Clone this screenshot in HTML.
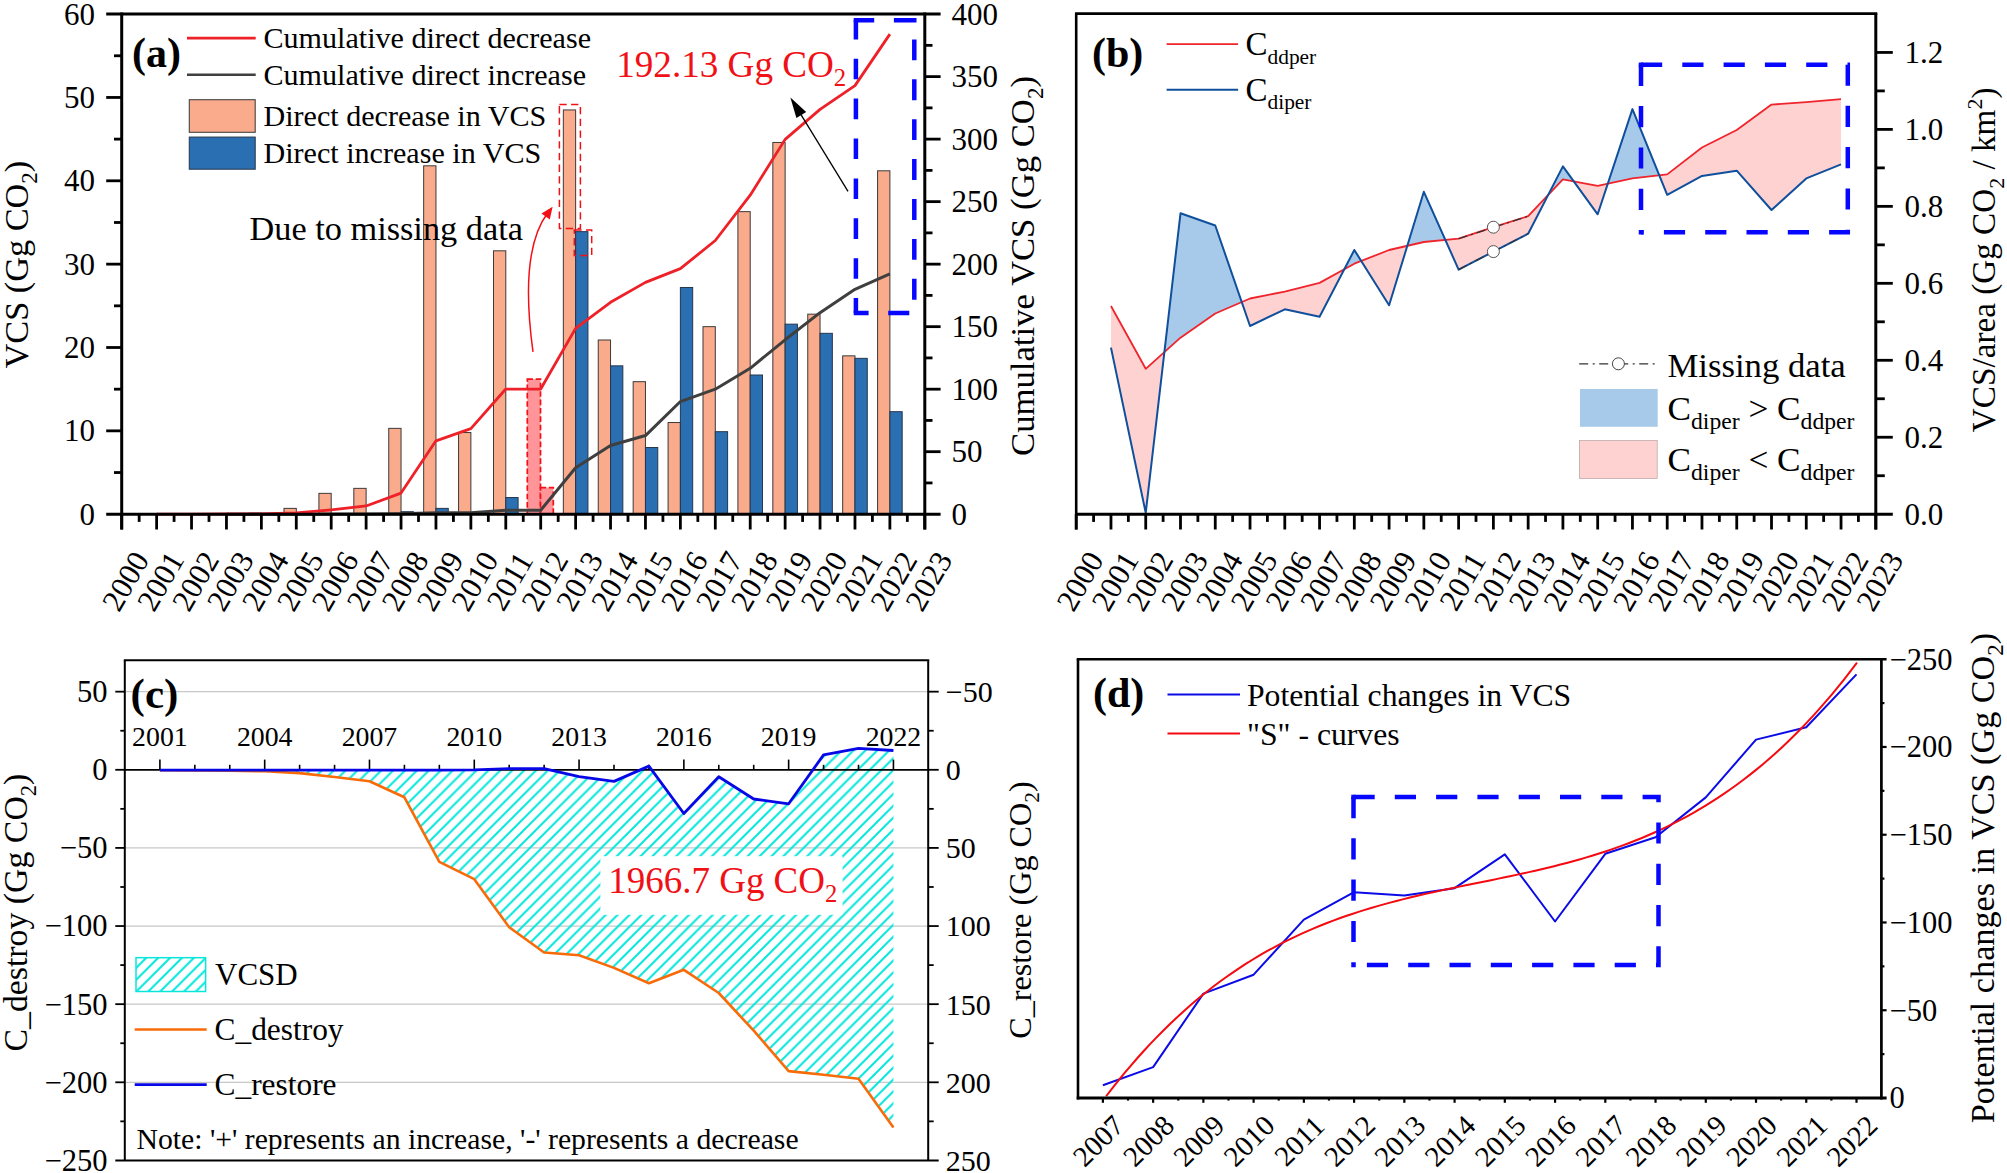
<!DOCTYPE html>
<html lang="en"><head><meta charset="utf-8"><title>VCS figure</title>
<style>html,body{margin:0;padding:0;background:#fff;}body{width:2007px;height:1173px;overflow:hidden;}svg{display:block;}text{white-space:pre;}</style></head>
<body>
<svg width="2007" height="1173" viewBox="0 0 2007 1173" font-family='"Liberation Serif", serif'>
<rect x="0" y="0" width="2007" height="1173" fill="#fff"/>
<g id="pa">
<rect x="249.07" y="513.2" width="12.3" height="1" fill="#f9ab8b" stroke="#3a3a3a" stroke-width="1" />
<rect x="283.99" y="508.37" width="12.3" height="5.83" fill="#f9ab8b" stroke="#3a3a3a" stroke-width="1" />
<rect x="318.9" y="493.36" width="12.3" height="20.84" fill="#f9ab8b" stroke="#3a3a3a" stroke-width="1" />
<rect x="353.82" y="488.36" width="12.3" height="25.84" fill="#f9ab8b" stroke="#3a3a3a" stroke-width="1" />
<rect x="388.74" y="428.35" width="12.3" height="85.85" fill="#f9ab8b" stroke="#3a3a3a" stroke-width="1" />
<rect x="423.66" y="165.8" width="12.3" height="348.4" fill="#f9ab8b" stroke="#3a3a3a" stroke-width="1" />
<rect x="458.57" y="432.52" width="12.3" height="81.68" fill="#f9ab8b" stroke="#3a3a3a" stroke-width="1" />
<rect x="493.49" y="250.81" width="12.3" height="263.39" fill="#f9ab8b" stroke="#3a3a3a" stroke-width="1" />
<rect x="563.33" y="109.95" width="12.3" height="404.25" fill="#f9ab8b" stroke="#3a3a3a" stroke-width="1" />
<rect x="598.24" y="340" width="12.3" height="174.2" fill="#f9ab8b" stroke="#3a3a3a" stroke-width="1" />
<rect x="633.16" y="381.67" width="12.3" height="132.53" fill="#f9ab8b" stroke="#3a3a3a" stroke-width="1" />
<rect x="668.08" y="422.52" width="12.3" height="91.69" fill="#f9ab8b" stroke="#3a3a3a" stroke-width="1" />
<rect x="703" y="326.66" width="12.3" height="187.54" fill="#f9ab8b" stroke="#3a3a3a" stroke-width="1" />
<rect x="737.91" y="211.64" width="12.3" height="302.56" fill="#f9ab8b" stroke="#3a3a3a" stroke-width="1" />
<rect x="772.83" y="142.46" width="12.3" height="371.74" fill="#f9ab8b" stroke="#3a3a3a" stroke-width="1" />
<rect x="807.75" y="314.16" width="12.3" height="200.04" fill="#f9ab8b" stroke="#3a3a3a" stroke-width="1" />
<rect x="842.67" y="355.84" width="12.3" height="158.37" fill="#f9ab8b" stroke="#3a3a3a" stroke-width="1" />
<rect x="877.58" y="170.8" width="12.3" height="343.4" fill="#f9ab8b" stroke="#3a3a3a" stroke-width="1" />
<rect x="401.04" y="511.7" width="12.3" height="2.5" fill="#2a6fb1" stroke="#26364d" stroke-width="1" />
<rect x="435.96" y="508.37" width="12.3" height="5.83" fill="#2a6fb1" stroke="#26364d" stroke-width="1" />
<rect x="470.87" y="513.2" width="12.3" height="1" fill="#2a6fb1" stroke="#26364d" stroke-width="1" />
<rect x="505.79" y="497.53" width="12.3" height="16.67" fill="#2a6fb1" stroke="#26364d" stroke-width="1" />
<rect x="575.63" y="231.64" width="12.3" height="282.56" fill="#2a6fb1" stroke="#26364d" stroke-width="1" />
<rect x="610.54" y="365.84" width="12.3" height="148.36" fill="#2a6fb1" stroke="#26364d" stroke-width="1" />
<rect x="645.46" y="447.52" width="12.3" height="66.68" fill="#2a6fb1" stroke="#26364d" stroke-width="1" />
<rect x="680.38" y="287.49" width="12.3" height="226.71" fill="#2a6fb1" stroke="#26364d" stroke-width="1" />
<rect x="715.3" y="431.68" width="12.3" height="82.52" fill="#2a6fb1" stroke="#26364d" stroke-width="1" />
<rect x="750.21" y="375.01" width="12.3" height="139.19" fill="#2a6fb1" stroke="#26364d" stroke-width="1" />
<rect x="785.13" y="324.16" width="12.3" height="190.04" fill="#2a6fb1" stroke="#26364d" stroke-width="1" />
<rect x="820.05" y="333.33" width="12.3" height="180.87" fill="#2a6fb1" stroke="#26364d" stroke-width="1" />
<rect x="854.97" y="358.34" width="12.3" height="155.86" fill="#2a6fb1" stroke="#26364d" stroke-width="1" />
<rect x="889.88" y="411.68" width="12.3" height="102.52" fill="#2a6fb1" stroke="#26364d" stroke-width="1" />
<rect x="527.31" y="379.17" width="13.2" height="135.03" fill="#ff9499" stroke="#f01016" stroke-width="1.7" stroke-dasharray="5.6 2.8"/>
<rect x="540.51" y="487.53" width="12.8" height="26.67" fill="#ff9499" stroke="#f01016" stroke-width="1.7" stroke-dasharray="5.6 2.8"/>
<polyline points="226.45,514.2 366.12,514.07 401.04,513.7 435.96,512.82 470.87,512.7 505.79,510.2 540.71,510.2 575.63,467.82 610.54,445.56 645.46,435.56 680.38,401.55 715.3,389.18 750.21,368.3 785.13,339.79 820.05,312.66 854.97,289.28 889.88,273.9" fill="none" stroke="#3f3f3f" stroke-width="3" stroke-linejoin="round" />
<polyline points="156.62,514.2 191.53,514.14 226.45,514.01 261.37,513.82 296.29,512.95 331.2,509.82 366.12,505.95 401.04,493.07 435.96,440.81 470.87,428.56 505.79,389.05 540.71,389.05 575.63,328.41 610.54,302.28 645.46,282.4 680.38,268.65 715.3,240.52 750.21,195.14 785.13,139.38 820.05,109.37 854.97,85.61 889.88,34.1" fill="none" stroke="#ee2128" stroke-width="2.8" stroke-linejoin="round" />
<rect x="559.4" y="104.6" width="21" height="123.8" fill="none" stroke="#f01016" stroke-width="1.5" stroke-dasharray="7.3 4.4"/>
<rect x="574.3" y="230" width="17.4" height="25.4" fill="none" stroke="#f01016" stroke-width="1.5" stroke-dasharray="7.3 4.4"/>
<path d="M533,351.8 C524.5,290 527,240 548,212.5" fill="none" stroke="#f01016" stroke-width="1.5"/>
<polygon points="552.6,206.8 549.8,219.6 541.5,213.6" fill="#f01016" />
<line x1="848" y1="191.3" x2="795" y2="104.8" stroke="#000" stroke-width="1.3" />
<polygon points="790.4,97.4 806.2,112 796.4,118" fill="#000" />
<path d="M853.7,20.3 H874.2 M893.9,20.3 H916.5" stroke="#0707ff" stroke-width="4.5" fill="none"/>
<path d="M853.7,313.0 H868.6 M888.2,313.0 H909.3" stroke="#0707ff" stroke-width="4.5" fill="none"/>
<path d="M855.9,20.3 V313.0" stroke="#0707ff" stroke-width="4.5" fill="none" stroke-dasharray="20.6 19.3" stroke-dashoffset="1.5"/>
<path d="M914.3,39.4 V313.0" stroke="#0707ff" stroke-width="4.5" fill="none" stroke-dasharray="20.9 19"/>
<line x1="106.2" y1="14.1" x2="940.6" y2="14.1" stroke="#000" stroke-width="3" />
<line x1="106.2" y1="514.2" x2="940.6" y2="514.2" stroke="#000" stroke-width="3" />
<line x1="121.7" y1="12.6" x2="121.7" y2="529.5" stroke="#000" stroke-width="3" />
<line x1="924.8" y1="12.6" x2="924.8" y2="529.5" stroke="#000" stroke-width="3" />
<line x1="114" y1="472.53" x2="121.7" y2="472.53" stroke="#000" stroke-width="2.8" />
<line x1="106.2" y1="430.85" x2="121.7" y2="430.85" stroke="#000" stroke-width="2.8" />
<line x1="114" y1="389.18" x2="121.7" y2="389.18" stroke="#000" stroke-width="2.8" />
<line x1="106.2" y1="347.5" x2="121.7" y2="347.5" stroke="#000" stroke-width="2.8" />
<line x1="114" y1="305.83" x2="121.7" y2="305.83" stroke="#000" stroke-width="2.8" />
<line x1="106.2" y1="264.15" x2="121.7" y2="264.15" stroke="#000" stroke-width="2.8" />
<line x1="114" y1="222.48" x2="121.7" y2="222.48" stroke="#000" stroke-width="2.8" />
<line x1="106.2" y1="180.8" x2="121.7" y2="180.8" stroke="#000" stroke-width="2.8" />
<line x1="114" y1="139.12" x2="121.7" y2="139.12" stroke="#000" stroke-width="2.8" />
<line x1="106.2" y1="97.45" x2="121.7" y2="97.45" stroke="#000" stroke-width="2.8" />
<line x1="114" y1="55.77" x2="121.7" y2="55.77" stroke="#000" stroke-width="2.8" />
<line x1="924.8" y1="482.94" x2="932.5" y2="482.94" stroke="#000" stroke-width="2.8" />
<line x1="924.8" y1="451.69" x2="940.6" y2="451.69" stroke="#000" stroke-width="2.8" />
<line x1="924.8" y1="420.43" x2="932.5" y2="420.43" stroke="#000" stroke-width="2.8" />
<line x1="924.8" y1="389.18" x2="940.6" y2="389.18" stroke="#000" stroke-width="2.8" />
<line x1="924.8" y1="357.92" x2="932.5" y2="357.92" stroke="#000" stroke-width="2.8" />
<line x1="924.8" y1="326.66" x2="940.6" y2="326.66" stroke="#000" stroke-width="2.8" />
<line x1="924.8" y1="295.41" x2="932.5" y2="295.41" stroke="#000" stroke-width="2.8" />
<line x1="924.8" y1="264.15" x2="940.6" y2="264.15" stroke="#000" stroke-width="2.8" />
<line x1="924.8" y1="232.89" x2="932.5" y2="232.89" stroke="#000" stroke-width="2.8" />
<line x1="924.8" y1="201.64" x2="940.6" y2="201.64" stroke="#000" stroke-width="2.8" />
<line x1="924.8" y1="170.38" x2="932.5" y2="170.38" stroke="#000" stroke-width="2.8" />
<line x1="924.8" y1="139.12" x2="940.6" y2="139.12" stroke="#000" stroke-width="2.8" />
<line x1="924.8" y1="107.87" x2="932.5" y2="107.87" stroke="#000" stroke-width="2.8" />
<line x1="924.8" y1="76.61" x2="940.6" y2="76.61" stroke="#000" stroke-width="2.8" />
<line x1="924.8" y1="45.36" x2="932.5" y2="45.36" stroke="#000" stroke-width="2.8" />
<line x1="121.7" y1="514.2" x2="121.7" y2="529.5" stroke="#000" stroke-width="2.8" />
<line x1="139.16" y1="514.2" x2="139.16" y2="521.9" stroke="#000" stroke-width="2.8" />
<line x1="156.62" y1="514.2" x2="156.62" y2="529.5" stroke="#000" stroke-width="2.8" />
<line x1="174.08" y1="514.2" x2="174.08" y2="521.9" stroke="#000" stroke-width="2.8" />
<line x1="191.53" y1="514.2" x2="191.53" y2="529.5" stroke="#000" stroke-width="2.8" />
<line x1="208.99" y1="514.2" x2="208.99" y2="521.9" stroke="#000" stroke-width="2.8" />
<line x1="226.45" y1="514.2" x2="226.45" y2="529.5" stroke="#000" stroke-width="2.8" />
<line x1="243.91" y1="514.2" x2="243.91" y2="521.9" stroke="#000" stroke-width="2.8" />
<line x1="261.37" y1="514.2" x2="261.37" y2="529.5" stroke="#000" stroke-width="2.8" />
<line x1="278.83" y1="514.2" x2="278.83" y2="521.9" stroke="#000" stroke-width="2.8" />
<line x1="296.29" y1="514.2" x2="296.29" y2="529.5" stroke="#000" stroke-width="2.8" />
<line x1="313.75" y1="514.2" x2="313.75" y2="521.9" stroke="#000" stroke-width="2.8" />
<line x1="331.2" y1="514.2" x2="331.2" y2="529.5" stroke="#000" stroke-width="2.8" />
<line x1="348.66" y1="514.2" x2="348.66" y2="521.9" stroke="#000" stroke-width="2.8" />
<line x1="366.12" y1="514.2" x2="366.12" y2="529.5" stroke="#000" stroke-width="2.8" />
<line x1="383.58" y1="514.2" x2="383.58" y2="521.9" stroke="#000" stroke-width="2.8" />
<line x1="401.04" y1="514.2" x2="401.04" y2="529.5" stroke="#000" stroke-width="2.8" />
<line x1="418.5" y1="514.2" x2="418.5" y2="521.9" stroke="#000" stroke-width="2.8" />
<line x1="435.96" y1="514.2" x2="435.96" y2="529.5" stroke="#000" stroke-width="2.8" />
<line x1="453.42" y1="514.2" x2="453.42" y2="521.9" stroke="#000" stroke-width="2.8" />
<line x1="470.87" y1="514.2" x2="470.87" y2="529.5" stroke="#000" stroke-width="2.8" />
<line x1="488.33" y1="514.2" x2="488.33" y2="521.9" stroke="#000" stroke-width="2.8" />
<line x1="505.79" y1="514.2" x2="505.79" y2="529.5" stroke="#000" stroke-width="2.8" />
<line x1="523.25" y1="514.2" x2="523.25" y2="521.9" stroke="#000" stroke-width="2.8" />
<line x1="540.71" y1="514.2" x2="540.71" y2="529.5" stroke="#000" stroke-width="2.8" />
<line x1="558.17" y1="514.2" x2="558.17" y2="521.9" stroke="#000" stroke-width="2.8" />
<line x1="575.63" y1="514.2" x2="575.63" y2="529.5" stroke="#000" stroke-width="2.8" />
<line x1="593.08" y1="514.2" x2="593.08" y2="521.9" stroke="#000" stroke-width="2.8" />
<line x1="610.54" y1="514.2" x2="610.54" y2="529.5" stroke="#000" stroke-width="2.8" />
<line x1="628" y1="514.2" x2="628" y2="521.9" stroke="#000" stroke-width="2.8" />
<line x1="645.46" y1="514.2" x2="645.46" y2="529.5" stroke="#000" stroke-width="2.8" />
<line x1="662.92" y1="514.2" x2="662.92" y2="521.9" stroke="#000" stroke-width="2.8" />
<line x1="680.38" y1="514.2" x2="680.38" y2="529.5" stroke="#000" stroke-width="2.8" />
<line x1="697.84" y1="514.2" x2="697.84" y2="521.9" stroke="#000" stroke-width="2.8" />
<line x1="715.3" y1="514.2" x2="715.3" y2="529.5" stroke="#000" stroke-width="2.8" />
<line x1="732.75" y1="514.2" x2="732.75" y2="521.9" stroke="#000" stroke-width="2.8" />
<line x1="750.21" y1="514.2" x2="750.21" y2="529.5" stroke="#000" stroke-width="2.8" />
<line x1="767.67" y1="514.2" x2="767.67" y2="521.9" stroke="#000" stroke-width="2.8" />
<line x1="785.13" y1="514.2" x2="785.13" y2="529.5" stroke="#000" stroke-width="2.8" />
<line x1="802.59" y1="514.2" x2="802.59" y2="521.9" stroke="#000" stroke-width="2.8" />
<line x1="820.05" y1="514.2" x2="820.05" y2="529.5" stroke="#000" stroke-width="2.8" />
<line x1="837.51" y1="514.2" x2="837.51" y2="521.9" stroke="#000" stroke-width="2.8" />
<line x1="854.97" y1="514.2" x2="854.97" y2="529.5" stroke="#000" stroke-width="2.8" />
<line x1="872.42" y1="514.2" x2="872.42" y2="521.9" stroke="#000" stroke-width="2.8" />
<line x1="889.88" y1="514.2" x2="889.88" y2="529.5" stroke="#000" stroke-width="2.8" />
<line x1="907.34" y1="514.2" x2="907.34" y2="521.9" stroke="#000" stroke-width="2.8" />
<line x1="924.8" y1="514.2" x2="924.8" y2="529.5" stroke="#000" stroke-width="2.8" />
<text x="94.9" y="524.7" font-size="31" text-anchor="end" fill="#000" font-weight="normal" >0</text>
<text x="94.9" y="441.35" font-size="31" text-anchor="end" fill="#000" font-weight="normal" >10</text>
<text x="94.9" y="358" font-size="31" text-anchor="end" fill="#000" font-weight="normal" >20</text>
<text x="94.9" y="274.65" font-size="31" text-anchor="end" fill="#000" font-weight="normal" >30</text>
<text x="94.9" y="191.3" font-size="31" text-anchor="end" fill="#000" font-weight="normal" >40</text>
<text x="94.9" y="107.95" font-size="31" text-anchor="end" fill="#000" font-weight="normal" >50</text>
<text x="94.9" y="24.6" font-size="31" text-anchor="end" fill="#000" font-weight="normal" >60</text>
<text x="951.4" y="524.7" font-size="31" text-anchor="start" fill="#000" font-weight="normal" >0</text>
<text x="951.4" y="462.19" font-size="31" text-anchor="start" fill="#000" font-weight="normal" >50</text>
<text x="951.4" y="399.68" font-size="31" text-anchor="start" fill="#000" font-weight="normal" >100</text>
<text x="951.4" y="337.16" font-size="31" text-anchor="start" fill="#000" font-weight="normal" >150</text>
<text x="951.4" y="274.65" font-size="31" text-anchor="start" fill="#000" font-weight="normal" >200</text>
<text x="951.4" y="212.14" font-size="31" text-anchor="start" fill="#000" font-weight="normal" >250</text>
<text x="951.4" y="149.62" font-size="31" text-anchor="start" fill="#000" font-weight="normal" >300</text>
<text x="951.4" y="87.11" font-size="31" text-anchor="start" fill="#000" font-weight="normal" >350</text>
<text x="951.4" y="24.6" font-size="31" text-anchor="start" fill="#000" font-weight="normal" >400</text>
<text x="125.7" y="591.5" font-size="31" text-anchor="middle" transform="rotate(-60 125.7 581.2)">2000</text>
<text x="160.62" y="591.5" font-size="31" text-anchor="middle" transform="rotate(-60 160.62 581.2)">2001</text>
<text x="195.53" y="591.5" font-size="31" text-anchor="middle" transform="rotate(-60 195.53 581.2)">2002</text>
<text x="230.45" y="591.5" font-size="31" text-anchor="middle" transform="rotate(-60 230.45 581.2)">2003</text>
<text x="265.37" y="591.5" font-size="31" text-anchor="middle" transform="rotate(-60 265.37 581.2)">2004</text>
<text x="300.29" y="591.5" font-size="31" text-anchor="middle" transform="rotate(-60 300.29 581.2)">2005</text>
<text x="335.2" y="591.5" font-size="31" text-anchor="middle" transform="rotate(-60 335.2 581.2)">2006</text>
<text x="370.12" y="591.5" font-size="31" text-anchor="middle" transform="rotate(-60 370.12 581.2)">2007</text>
<text x="405.04" y="591.5" font-size="31" text-anchor="middle" transform="rotate(-60 405.04 581.2)">2008</text>
<text x="439.96" y="591.5" font-size="31" text-anchor="middle" transform="rotate(-60 439.96 581.2)">2009</text>
<text x="474.87" y="591.5" font-size="31" text-anchor="middle" transform="rotate(-60 474.87 581.2)">2010</text>
<text x="509.79" y="591.5" font-size="31" text-anchor="middle" transform="rotate(-60 509.79 581.2)">2011</text>
<text x="544.71" y="591.5" font-size="31" text-anchor="middle" transform="rotate(-60 544.71 581.2)">2012</text>
<text x="579.63" y="591.5" font-size="31" text-anchor="middle" transform="rotate(-60 579.63 581.2)">2013</text>
<text x="614.54" y="591.5" font-size="31" text-anchor="middle" transform="rotate(-60 614.54 581.2)">2014</text>
<text x="649.46" y="591.5" font-size="31" text-anchor="middle" transform="rotate(-60 649.46 581.2)">2015</text>
<text x="684.38" y="591.5" font-size="31" text-anchor="middle" transform="rotate(-60 684.38 581.2)">2016</text>
<text x="719.3" y="591.5" font-size="31" text-anchor="middle" transform="rotate(-60 719.3 581.2)">2017</text>
<text x="754.21" y="591.5" font-size="31" text-anchor="middle" transform="rotate(-60 754.21 581.2)">2018</text>
<text x="789.13" y="591.5" font-size="31" text-anchor="middle" transform="rotate(-60 789.13 581.2)">2019</text>
<text x="824.05" y="591.5" font-size="31" text-anchor="middle" transform="rotate(-60 824.05 581.2)">2020</text>
<text x="858.97" y="591.5" font-size="31" text-anchor="middle" transform="rotate(-60 858.97 581.2)">2021</text>
<text x="893.88" y="591.5" font-size="31" text-anchor="middle" transform="rotate(-60 893.88 581.2)">2022</text>
<text x="928.8" y="591.5" font-size="31" text-anchor="middle" transform="rotate(-60 928.8 581.2)">2023</text>
<text x="28.3" y="264.6" font-size="34.3" text-anchor="middle" fill="#000" font-weight="normal" transform="rotate(-90 28.3 264.6)" >VCS (Gg CO<tspan font-size="23" dy="9">2</tspan><tspan dy="-9">)</tspan></text>
<text x="1034" y="266" font-size="34.7" text-anchor="middle" fill="#000" font-weight="normal" transform="rotate(-90 1034 266)" >Cumulative VCS (Gg CO<tspan font-size="23" dy="9">2</tspan><tspan dy="-9">)</tspan></text>
<line x1="187" y1="38.1" x2="255.7" y2="38.1" stroke="#ee2128" stroke-width="2.6" />
<line x1="187" y1="74.7" x2="255.7" y2="74.7" stroke="#3f3f3f" stroke-width="2.5" />
<rect x="189.3" y="99.7" width="65.9" height="32.6" fill="#f9ab8b" stroke="#444" stroke-width="1.1" />
<rect x="189.3" y="137.1" width="65.9" height="32.1" fill="#2a6fb1" stroke="#2b3c55" stroke-width="1.1" />
<text x="263.5" y="48.4" font-size="30.1" text-anchor="start" fill="#000" font-weight="normal" >Cumulative direct decrease</text>
<text x="263.5" y="85.1" font-size="30.1" text-anchor="start" fill="#000" font-weight="normal" >Cumulative direct increase</text>
<text x="263.5" y="126.3" font-size="30.1" text-anchor="start" fill="#000" font-weight="normal" >Direct decrease in VCS</text>
<text x="263.5" y="162.9" font-size="30.1" text-anchor="start" fill="#000" font-weight="normal" >Direct increase in VCS</text>
<text x="132" y="66.5" font-size="42" text-anchor="start" fill="#000" font-weight="bold" >(a)</text>
<text x="249.5" y="239.8" font-size="34.3" text-anchor="start" fill="#000" font-weight="normal" >Due to missing data</text>
<text x="616.2" y="76.6" font-size="37.5" text-anchor="start" fill="#f01016" font-weight="normal" textLength="230" lengthAdjust="spacingAndGlyphs">192.13 Gg CO<tspan font-size="25" dy="9">2</tspan></text>
</g>
<g id="pb">
<polygon points="1110.97,306 1145.73,368.8 1164.38,352.11 1145.73,512.8 1110.97,347.6" fill="#ffd2d2" />
<polygon points="1164.38,352.11 1180.5,337.7 1215.26,313.5 1241.75,302.07 1215.26,225.5 1180.5,213.3" fill="#a8caea" />
<polygon points="1241.75,302.07 1250.03,298.5 1284.79,291.6 1319.56,282.9 1344.29,269.24 1319.56,316.7 1284.79,309.3 1250.03,326" fill="#ffd2d2" />
<polygon points="1344.29,269.24 1354.32,263.7 1361.22,260.98 1354.32,250" fill="#a8caea" />
<polygon points="1361.22,260.98 1389.09,250 1407.31,245.81 1389.09,305.3" fill="#ffd2d2" />
<polygon points="1407.31,245.81 1423.85,242 1445.37,239.96 1423.85,191.8" fill="#a8caea" />
<polygon points="1445.37,239.96 1458.62,238.7 1493.38,227.2 1528.15,216.2 1548.1,195.09 1528.15,233.7 1493.38,251.6 1458.62,269.6" fill="#ffd2d2" />
<polygon points="1548.1,195.09 1562.91,179.4 1573.83,181.44 1562.91,166.4" fill="#a8caea" />
<polygon points="1573.83,181.44 1597.68,185.9 1607.78,183.72 1597.68,214.3" fill="#ffd2d2" />
<polygon points="1607.78,183.72 1632.44,178.4 1659.3,175.31 1632.44,109.1" fill="#a8caea" />
<polygon points="1659.3,175.31 1667.21,174.4 1701.97,147.5 1736.74,130 1771.5,104.6 1806.27,102.1 1841.03,99.2 1841.03,164.4 1806.27,178.4 1771.5,210 1736.74,170.7 1701.97,175.9 1667.21,194.8" fill="#ffd2d2" />
<polyline points="1110.97,306 1145.73,368.8 1180.5,337.7 1215.26,313.5 1250.03,298.5 1284.79,291.6 1319.56,282.9 1354.32,263.7 1389.09,250 1423.85,242 1458.62,238.7 1493.38,227.2 1528.15,216.2 1562.91,179.4 1597.68,185.9 1632.44,178.4 1667.21,174.4 1701.97,147.5 1736.74,130 1771.5,104.6 1806.27,102.1 1841.03,99.2" fill="none" stroke="#f0242c" stroke-width="1.8" stroke-linejoin="round" />
<polyline points="1110.97,347.6 1145.73,512.8 1180.5,213.3 1215.26,225.5 1250.03,326 1284.79,309.3 1319.56,316.7 1354.32,250 1389.09,305.3 1423.85,191.8 1458.62,269.6 1493.38,251.6 1528.15,233.7 1562.91,166.4 1597.68,214.3 1632.44,109.1 1667.21,194.8 1701.97,175.9 1736.74,170.7 1771.5,210 1806.27,178.4 1841.03,164.4" fill="none" stroke="#0f4f9c" stroke-width="2" stroke-linejoin="round" />
<polyline points="1458.62,238.7 1528.15,216.2" fill="none" stroke="#333" stroke-width="1.2" stroke-dasharray="9 4 2 4"/>
<circle cx="1493.38" cy="227.2" r="6" fill="#fff" stroke="#555" stroke-width="1"/>
<polyline points="1458.62,269.6 1528.15,233.7" fill="none" stroke="#333" stroke-width="1.2" stroke-dasharray="9 4 2 4"/>
<circle cx="1493.38" cy="251.6" r="6" fill="#fff" stroke="#555" stroke-width="1"/>
<path d="M1641,64.8 H1847.8 V232.2 H1641" stroke="#0707ff" stroke-width="4.5" fill="none" stroke-dasharray="21.2 20.1" stroke-linejoin="miter"/>
<path d="M1641,64.8 V234.45" stroke="#0707ff" stroke-width="4.5" fill="none" stroke-dasharray="21.2 20.1"/>
<rect x="1638.75" y="62.55" width="4.5" height="4.5" fill="#0707ff" stroke="none" stroke-width="1" />
<line x1="1075" y1="13.6" x2="1877.3" y2="13.6" stroke="#000" stroke-width="2.8" />
<line x1="1075" y1="514.2" x2="1892.8" y2="514.2" stroke="#000" stroke-width="3" />
<line x1="1076.2" y1="13.6" x2="1076.2" y2="529.5" stroke="#000" stroke-width="2.6" />
<line x1="1875.8" y1="13.6" x2="1875.8" y2="529.5" stroke="#000" stroke-width="3" />
<line x1="1076.2" y1="514.2" x2="1076.2" y2="529.5" stroke="#000" stroke-width="2.8" />
<line x1="1093.58" y1="514.2" x2="1093.58" y2="521.9" stroke="#000" stroke-width="2.8" />
<line x1="1110.97" y1="514.2" x2="1110.97" y2="529.5" stroke="#000" stroke-width="2.8" />
<line x1="1128.35" y1="514.2" x2="1128.35" y2="521.9" stroke="#000" stroke-width="2.8" />
<line x1="1145.73" y1="514.2" x2="1145.73" y2="529.5" stroke="#000" stroke-width="2.8" />
<line x1="1163.11" y1="514.2" x2="1163.11" y2="521.9" stroke="#000" stroke-width="2.8" />
<line x1="1180.5" y1="514.2" x2="1180.5" y2="529.5" stroke="#000" stroke-width="2.8" />
<line x1="1197.88" y1="514.2" x2="1197.88" y2="521.9" stroke="#000" stroke-width="2.8" />
<line x1="1215.26" y1="514.2" x2="1215.26" y2="529.5" stroke="#000" stroke-width="2.8" />
<line x1="1232.64" y1="514.2" x2="1232.64" y2="521.9" stroke="#000" stroke-width="2.8" />
<line x1="1250.03" y1="514.2" x2="1250.03" y2="529.5" stroke="#000" stroke-width="2.8" />
<line x1="1267.41" y1="514.2" x2="1267.41" y2="521.9" stroke="#000" stroke-width="2.8" />
<line x1="1284.79" y1="514.2" x2="1284.79" y2="529.5" stroke="#000" stroke-width="2.8" />
<line x1="1302.17" y1="514.2" x2="1302.17" y2="521.9" stroke="#000" stroke-width="2.8" />
<line x1="1319.56" y1="514.2" x2="1319.56" y2="529.5" stroke="#000" stroke-width="2.8" />
<line x1="1336.94" y1="514.2" x2="1336.94" y2="521.9" stroke="#000" stroke-width="2.8" />
<line x1="1354.32" y1="514.2" x2="1354.32" y2="529.5" stroke="#000" stroke-width="2.8" />
<line x1="1371.7" y1="514.2" x2="1371.7" y2="521.9" stroke="#000" stroke-width="2.8" />
<line x1="1389.09" y1="514.2" x2="1389.09" y2="529.5" stroke="#000" stroke-width="2.8" />
<line x1="1406.47" y1="514.2" x2="1406.47" y2="521.9" stroke="#000" stroke-width="2.8" />
<line x1="1423.85" y1="514.2" x2="1423.85" y2="529.5" stroke="#000" stroke-width="2.8" />
<line x1="1441.23" y1="514.2" x2="1441.23" y2="521.9" stroke="#000" stroke-width="2.8" />
<line x1="1458.62" y1="514.2" x2="1458.62" y2="529.5" stroke="#000" stroke-width="2.8" />
<line x1="1476" y1="514.2" x2="1476" y2="521.9" stroke="#000" stroke-width="2.8" />
<line x1="1493.38" y1="514.2" x2="1493.38" y2="529.5" stroke="#000" stroke-width="2.8" />
<line x1="1510.77" y1="514.2" x2="1510.77" y2="521.9" stroke="#000" stroke-width="2.8" />
<line x1="1528.15" y1="514.2" x2="1528.15" y2="529.5" stroke="#000" stroke-width="2.8" />
<line x1="1545.53" y1="514.2" x2="1545.53" y2="521.9" stroke="#000" stroke-width="2.8" />
<line x1="1562.91" y1="514.2" x2="1562.91" y2="529.5" stroke="#000" stroke-width="2.8" />
<line x1="1580.3" y1="514.2" x2="1580.3" y2="521.9" stroke="#000" stroke-width="2.8" />
<line x1="1597.68" y1="514.2" x2="1597.68" y2="529.5" stroke="#000" stroke-width="2.8" />
<line x1="1615.06" y1="514.2" x2="1615.06" y2="521.9" stroke="#000" stroke-width="2.8" />
<line x1="1632.44" y1="514.2" x2="1632.44" y2="529.5" stroke="#000" stroke-width="2.8" />
<line x1="1649.83" y1="514.2" x2="1649.83" y2="521.9" stroke="#000" stroke-width="2.8" />
<line x1="1667.21" y1="514.2" x2="1667.21" y2="529.5" stroke="#000" stroke-width="2.8" />
<line x1="1684.59" y1="514.2" x2="1684.59" y2="521.9" stroke="#000" stroke-width="2.8" />
<line x1="1701.97" y1="514.2" x2="1701.97" y2="529.5" stroke="#000" stroke-width="2.8" />
<line x1="1719.36" y1="514.2" x2="1719.36" y2="521.9" stroke="#000" stroke-width="2.8" />
<line x1="1736.74" y1="514.2" x2="1736.74" y2="529.5" stroke="#000" stroke-width="2.8" />
<line x1="1754.12" y1="514.2" x2="1754.12" y2="521.9" stroke="#000" stroke-width="2.8" />
<line x1="1771.5" y1="514.2" x2="1771.5" y2="529.5" stroke="#000" stroke-width="2.8" />
<line x1="1788.89" y1="514.2" x2="1788.89" y2="521.9" stroke="#000" stroke-width="2.8" />
<line x1="1806.27" y1="514.2" x2="1806.27" y2="529.5" stroke="#000" stroke-width="2.8" />
<line x1="1823.65" y1="514.2" x2="1823.65" y2="521.9" stroke="#000" stroke-width="2.8" />
<line x1="1841.03" y1="514.2" x2="1841.03" y2="529.5" stroke="#000" stroke-width="2.8" />
<line x1="1858.42" y1="514.2" x2="1858.42" y2="521.9" stroke="#000" stroke-width="2.8" />
<line x1="1875.8" y1="514.2" x2="1875.8" y2="529.5" stroke="#000" stroke-width="2.8" />
<line x1="1875.8" y1="475.72" x2="1884.8" y2="475.72" stroke="#000" stroke-width="2.8" />
<line x1="1875.8" y1="437.24" x2="1892.8" y2="437.24" stroke="#000" stroke-width="2.8" />
<line x1="1875.8" y1="398.76" x2="1884.8" y2="398.76" stroke="#000" stroke-width="2.8" />
<line x1="1875.8" y1="360.28" x2="1892.8" y2="360.28" stroke="#000" stroke-width="2.8" />
<line x1="1875.8" y1="321.8" x2="1884.8" y2="321.8" stroke="#000" stroke-width="2.8" />
<line x1="1875.8" y1="283.32" x2="1892.8" y2="283.32" stroke="#000" stroke-width="2.8" />
<line x1="1875.8" y1="244.84" x2="1884.8" y2="244.84" stroke="#000" stroke-width="2.8" />
<line x1="1875.8" y1="206.36" x2="1892.8" y2="206.36" stroke="#000" stroke-width="2.8" />
<line x1="1875.8" y1="167.88" x2="1884.8" y2="167.88" stroke="#000" stroke-width="2.8" />
<line x1="1875.8" y1="129.4" x2="1892.8" y2="129.4" stroke="#000" stroke-width="2.8" />
<line x1="1875.8" y1="90.92" x2="1884.8" y2="90.92" stroke="#000" stroke-width="2.8" />
<line x1="1875.8" y1="52.44" x2="1892.8" y2="52.44" stroke="#000" stroke-width="2.8" />
<text x="1904.5" y="524.5" font-size="31" text-anchor="start" fill="#000" font-weight="normal" >0.0</text>
<text x="1904.5" y="447.54" font-size="31" text-anchor="start" fill="#000" font-weight="normal" >0.2</text>
<text x="1904.5" y="370.58" font-size="31" text-anchor="start" fill="#000" font-weight="normal" >0.4</text>
<text x="1904.5" y="293.62" font-size="31" text-anchor="start" fill="#000" font-weight="normal" >0.6</text>
<text x="1904.5" y="216.66" font-size="31" text-anchor="start" fill="#000" font-weight="normal" >0.8</text>
<text x="1904.5" y="139.7" font-size="31" text-anchor="start" fill="#000" font-weight="normal" >1.0</text>
<text x="1904.5" y="62.74" font-size="31" text-anchor="start" fill="#000" font-weight="normal" >1.2</text>
<text x="1080.2" y="591.5" font-size="31" text-anchor="middle" transform="rotate(-60 1080.2 581.2)">2000</text>
<text x="1114.97" y="591.5" font-size="31" text-anchor="middle" transform="rotate(-60 1114.97 581.2)">2001</text>
<text x="1149.73" y="591.5" font-size="31" text-anchor="middle" transform="rotate(-60 1149.73 581.2)">2002</text>
<text x="1184.5" y="591.5" font-size="31" text-anchor="middle" transform="rotate(-60 1184.5 581.2)">2003</text>
<text x="1219.26" y="591.5" font-size="31" text-anchor="middle" transform="rotate(-60 1219.26 581.2)">2004</text>
<text x="1254.03" y="591.5" font-size="31" text-anchor="middle" transform="rotate(-60 1254.03 581.2)">2005</text>
<text x="1288.79" y="591.5" font-size="31" text-anchor="middle" transform="rotate(-60 1288.79 581.2)">2006</text>
<text x="1323.56" y="591.5" font-size="31" text-anchor="middle" transform="rotate(-60 1323.56 581.2)">2007</text>
<text x="1358.32" y="591.5" font-size="31" text-anchor="middle" transform="rotate(-60 1358.32 581.2)">2008</text>
<text x="1393.09" y="591.5" font-size="31" text-anchor="middle" transform="rotate(-60 1393.09 581.2)">2009</text>
<text x="1427.85" y="591.5" font-size="31" text-anchor="middle" transform="rotate(-60 1427.85 581.2)">2010</text>
<text x="1462.62" y="591.5" font-size="31" text-anchor="middle" transform="rotate(-60 1462.62 581.2)">2011</text>
<text x="1497.38" y="591.5" font-size="31" text-anchor="middle" transform="rotate(-60 1497.38 581.2)">2012</text>
<text x="1532.15" y="591.5" font-size="31" text-anchor="middle" transform="rotate(-60 1532.15 581.2)">2013</text>
<text x="1566.91" y="591.5" font-size="31" text-anchor="middle" transform="rotate(-60 1566.91 581.2)">2014</text>
<text x="1601.68" y="591.5" font-size="31" text-anchor="middle" transform="rotate(-60 1601.68 581.2)">2015</text>
<text x="1636.44" y="591.5" font-size="31" text-anchor="middle" transform="rotate(-60 1636.44 581.2)">2016</text>
<text x="1671.21" y="591.5" font-size="31" text-anchor="middle" transform="rotate(-60 1671.21 581.2)">2017</text>
<text x="1705.97" y="591.5" font-size="31" text-anchor="middle" transform="rotate(-60 1705.97 581.2)">2018</text>
<text x="1740.74" y="591.5" font-size="31" text-anchor="middle" transform="rotate(-60 1740.74 581.2)">2019</text>
<text x="1775.5" y="591.5" font-size="31" text-anchor="middle" transform="rotate(-60 1775.5 581.2)">2020</text>
<text x="1810.27" y="591.5" font-size="31" text-anchor="middle" transform="rotate(-60 1810.27 581.2)">2021</text>
<text x="1845.03" y="591.5" font-size="31" text-anchor="middle" transform="rotate(-60 1845.03 581.2)">2022</text>
<text x="1879.8" y="591.5" font-size="31" text-anchor="middle" transform="rotate(-60 1879.8 581.2)">2023</text>
<text x="1995.5" y="259.8" font-size="33.2" text-anchor="middle" fill="#000" font-weight="normal" transform="rotate(-90 1995.5 259.8)" >VCS/area (Gg CO<tspan font-size="22" dy="8.6">2</tspan><tspan dy="-8.6"> / km</tspan><tspan font-size="22" dy="-13">2</tspan><tspan dy="13">)</tspan></text>
<text x="1092" y="66.5" font-size="42" text-anchor="start" fill="#000" font-weight="bold" >(b)</text>
<line x1="1166.6" y1="44.1" x2="1238.1" y2="44.1" stroke="#f0242c" stroke-width="1.8" />
<line x1="1166.6" y1="89.7" x2="1238.1" y2="89.7" stroke="#0f4f9c" stroke-width="2" />
<text x="1245.5" y="55.3" font-size="33" text-anchor="start" fill="#000" font-weight="normal" >C<tspan font-size="21.4" dy="8.3">ddper</tspan></text>
<text x="1245.5" y="100.9" font-size="33" text-anchor="start" fill="#000" font-weight="normal" >C<tspan font-size="21.4" dy="8.3">diper</tspan></text>
<path d="M1579.2,363.8 H1658.5" stroke="#333" stroke-width="1.2" stroke-dasharray="9 4.5 2 4.5" fill="none"/>
<circle cx="1618.4" cy="363.8" r="6" fill="#fff" stroke="#444" stroke-width="1"/>
<text x="1667.5" y="376.5" font-size="34.7" text-anchor="start" fill="#000" font-weight="normal" >Missing data</text>
<rect x="1580" y="389" width="77.7" height="37.8" fill="#a8caea" stroke="none" stroke-width="1" />
<rect x="1579.4" y="440.6" width="77.8" height="38" fill="#ffd2d2" stroke="#b9a0a0" stroke-width="0.7" />
<text x="1667.5" y="419.9" font-size="34.7" text-anchor="start" fill="#000" font-weight="normal" textLength="187" lengthAdjust="spacingAndGlyphs">C<tspan font-size="23.3" dy="8.6">diper</tspan><tspan dy="-8.6"> &gt; C</tspan><tspan font-size="23.3" dy="8.6">ddper</tspan></text>
<text x="1667.5" y="471.2" font-size="34.7" text-anchor="start" fill="#000" font-weight="normal" textLength="187" lengthAdjust="spacingAndGlyphs">C<tspan font-size="23.3" dy="8.6">diper</tspan><tspan dy="-8.6"> &lt; C</tspan><tspan font-size="23.3" dy="8.6">ddper</tspan></text>
</g>
<g id="pc">
<line x1="124.8" y1="691.67" x2="928.2" y2="691.67" stroke="#c8c8c8" stroke-width="1.2" />
<line x1="124.8" y1="847.92" x2="928.2" y2="847.92" stroke="#c8c8c8" stroke-width="1.2" />
<line x1="124.8" y1="926.05" x2="928.2" y2="926.05" stroke="#c8c8c8" stroke-width="1.2" />
<line x1="124.8" y1="1004.17" x2="928.2" y2="1004.17" stroke="#c8c8c8" stroke-width="1.2" />
<line x1="124.8" y1="1082.3" x2="928.2" y2="1082.3" stroke="#c8c8c8" stroke-width="1.2" />
<defs><pattern id="hat" patternUnits="userSpaceOnUse" width="11.9" height="11.9" x="9.3" y="0"><path d="M-3,3 L3,-3 M-3,14.9 L14.9,-3 M8.9,14.9 L14.9,8.9" stroke="#08e6dc" stroke-width="2.1" fill="none"/></pattern></defs>
<polygon points="159.9,770.2 194.83,770.2 229.76,770.2 264.69,770.2 299.62,770.2 334.55,770.2 369.48,770.2 404.41,770.2 439.34,770.1 474.27,769.9 509.2,768.6 544.13,768.6 579.06,776.7 613.99,781.4 648.92,766.1 683.85,813.5 718.78,776.7 753.71,799 788.64,803.8 823.57,754.9 858.5,748.3 893.43,750.5 893.43,1127.5 858.5,1078.7 823.57,1074.8 788.64,1071.1 753.71,1030.7 718.78,993 683.85,969.8 648.92,983.2 613.99,967.9 579.06,955.3 544.13,952.5 509.2,927.3 474.27,879.2 439.34,861.8 404.41,797.3 369.48,781.2 334.55,777 299.62,773.1 264.69,771.2 229.76,770.8 194.83,770.5 159.9,770.3" fill="url(#hat)"/>
<line x1="124.8" y1="769.8" x2="928.2" y2="769.8" stroke="#000" stroke-width="1.8" />
<line x1="159.9" y1="769.8" x2="159.9" y2="759.6" stroke="#000" stroke-width="1.6" />
<line x1="194.83" y1="769.8" x2="194.83" y2="764.8" stroke="#000" stroke-width="1.6" />
<line x1="229.76" y1="769.8" x2="229.76" y2="764.8" stroke="#000" stroke-width="1.6" />
<line x1="264.69" y1="769.8" x2="264.69" y2="759.6" stroke="#000" stroke-width="1.6" />
<line x1="299.62" y1="769.8" x2="299.62" y2="764.8" stroke="#000" stroke-width="1.6" />
<line x1="334.55" y1="769.8" x2="334.55" y2="764.8" stroke="#000" stroke-width="1.6" />
<line x1="369.48" y1="769.8" x2="369.48" y2="759.6" stroke="#000" stroke-width="1.6" />
<line x1="404.41" y1="769.8" x2="404.41" y2="764.8" stroke="#000" stroke-width="1.6" />
<line x1="439.34" y1="769.8" x2="439.34" y2="764.8" stroke="#000" stroke-width="1.6" />
<line x1="474.27" y1="769.8" x2="474.27" y2="759.6" stroke="#000" stroke-width="1.6" />
<line x1="509.2" y1="769.8" x2="509.2" y2="764.8" stroke="#000" stroke-width="1.6" />
<line x1="544.13" y1="769.8" x2="544.13" y2="764.8" stroke="#000" stroke-width="1.6" />
<line x1="579.06" y1="769.8" x2="579.06" y2="759.6" stroke="#000" stroke-width="1.6" />
<line x1="613.99" y1="769.8" x2="613.99" y2="764.8" stroke="#000" stroke-width="1.6" />
<line x1="648.92" y1="769.8" x2="648.92" y2="764.8" stroke="#000" stroke-width="1.6" />
<line x1="683.85" y1="769.8" x2="683.85" y2="759.6" stroke="#000" stroke-width="1.6" />
<line x1="718.78" y1="769.8" x2="718.78" y2="764.8" stroke="#000" stroke-width="1.6" />
<line x1="753.71" y1="769.8" x2="753.71" y2="764.8" stroke="#000" stroke-width="1.6" />
<line x1="788.64" y1="769.8" x2="788.64" y2="759.6" stroke="#000" stroke-width="1.6" />
<line x1="823.57" y1="769.8" x2="823.57" y2="764.8" stroke="#000" stroke-width="1.6" />
<line x1="858.5" y1="769.8" x2="858.5" y2="764.8" stroke="#000" stroke-width="1.6" />
<line x1="893.43" y1="769.8" x2="893.43" y2="759.6" stroke="#000" stroke-width="1.6" />
<text x="159.9" y="745.8" font-size="27.8" text-anchor="middle" fill="#000" font-weight="normal" >2001</text>
<text x="264.69" y="745.8" font-size="27.8" text-anchor="middle" fill="#000" font-weight="normal" >2004</text>
<text x="369.48" y="745.8" font-size="27.8" text-anchor="middle" fill="#000" font-weight="normal" >2007</text>
<text x="474.27" y="745.8" font-size="27.8" text-anchor="middle" fill="#000" font-weight="normal" >2010</text>
<text x="579.06" y="745.8" font-size="27.8" text-anchor="middle" fill="#000" font-weight="normal" >2013</text>
<text x="683.85" y="745.8" font-size="27.8" text-anchor="middle" fill="#000" font-weight="normal" >2016</text>
<text x="788.64" y="745.8" font-size="27.8" text-anchor="middle" fill="#000" font-weight="normal" >2019</text>
<text x="893.43" y="745.8" font-size="27.8" text-anchor="middle" fill="#000" font-weight="normal" >2022</text>
<rect x="600.4" y="856.2" width="242.2" height="58.6" fill="#fff" stroke="none" stroke-width="1" />
<text x="608.3" y="893.2" font-size="37.5" text-anchor="start" fill="#f01016" font-weight="normal" textLength="229" lengthAdjust="spacingAndGlyphs">1966.7 Gg CO<tspan font-size="25" dy="9">2</tspan></text>
<polyline points="159.9,770.3 194.83,770.5 229.76,770.8 264.69,771.2 299.62,773.1 334.55,777 369.48,781.2 404.41,797.3 439.34,861.8 474.27,879.2 509.2,927.3 544.13,952.5 579.06,955.3 613.99,967.9 648.92,983.2 683.85,969.8 718.78,993 753.71,1030.7 788.64,1071.1 823.57,1074.8 858.5,1078.7 893.43,1127.5" fill="none" stroke="#f96b08" stroke-width="2.6" stroke-linejoin="round" />
<polyline points="159.9,770.2 194.83,770.2 229.76,770.2 264.69,770.2 299.62,770.2 334.55,770.2 369.48,770.2 404.41,770.2 439.34,770.1 474.27,769.9 509.2,768.6 544.13,768.6 579.06,776.7 613.99,781.4 648.92,766.1 683.85,813.5 718.78,776.7 753.71,799 788.64,803.8 823.57,754.9 858.5,748.3 893.43,750.5" fill="none" stroke="#0808e6" stroke-width="2.8" stroke-linejoin="round" />
<line x1="123.8" y1="660.3" x2="929.2" y2="660.3" stroke="#000" stroke-width="2" />
<line x1="115.3" y1="1160.6" x2="938.7" y2="1160.6" stroke="#000" stroke-width="2" />
<line x1="124.8" y1="660.3" x2="124.8" y2="1160.6" stroke="#000" stroke-width="2" />
<line x1="928.2" y1="660.3" x2="928.2" y2="1160.6" stroke="#000" stroke-width="2" />
<line x1="120.3" y1="1121.36" x2="124.8" y2="1121.36" stroke="#000" stroke-width="1.8" />
<line x1="928.2" y1="1121.36" x2="933.7" y2="1121.36" stroke="#000" stroke-width="1.8" />
<line x1="115.3" y1="1082.3" x2="124.8" y2="1082.3" stroke="#000" stroke-width="1.8" />
<line x1="928.2" y1="1082.3" x2="938.7" y2="1082.3" stroke="#000" stroke-width="1.8" />
<line x1="120.3" y1="1043.24" x2="124.8" y2="1043.24" stroke="#000" stroke-width="1.8" />
<line x1="928.2" y1="1043.24" x2="933.7" y2="1043.24" stroke="#000" stroke-width="1.8" />
<line x1="115.3" y1="1004.17" x2="124.8" y2="1004.17" stroke="#000" stroke-width="1.8" />
<line x1="928.2" y1="1004.17" x2="938.7" y2="1004.17" stroke="#000" stroke-width="1.8" />
<line x1="120.3" y1="965.11" x2="124.8" y2="965.11" stroke="#000" stroke-width="1.8" />
<line x1="928.2" y1="965.11" x2="933.7" y2="965.11" stroke="#000" stroke-width="1.8" />
<line x1="115.3" y1="926.05" x2="124.8" y2="926.05" stroke="#000" stroke-width="1.8" />
<line x1="928.2" y1="926.05" x2="938.7" y2="926.05" stroke="#000" stroke-width="1.8" />
<line x1="120.3" y1="886.99" x2="124.8" y2="886.99" stroke="#000" stroke-width="1.8" />
<line x1="928.2" y1="886.99" x2="933.7" y2="886.99" stroke="#000" stroke-width="1.8" />
<line x1="115.3" y1="847.92" x2="124.8" y2="847.92" stroke="#000" stroke-width="1.8" />
<line x1="928.2" y1="847.92" x2="938.7" y2="847.92" stroke="#000" stroke-width="1.8" />
<line x1="120.3" y1="808.86" x2="124.8" y2="808.86" stroke="#000" stroke-width="1.8" />
<line x1="928.2" y1="808.86" x2="933.7" y2="808.86" stroke="#000" stroke-width="1.8" />
<line x1="115.3" y1="769.8" x2="124.8" y2="769.8" stroke="#000" stroke-width="1.8" />
<line x1="928.2" y1="769.8" x2="938.7" y2="769.8" stroke="#000" stroke-width="1.8" />
<line x1="120.3" y1="730.74" x2="124.8" y2="730.74" stroke="#000" stroke-width="1.8" />
<line x1="928.2" y1="730.74" x2="933.7" y2="730.74" stroke="#000" stroke-width="1.8" />
<line x1="115.3" y1="691.67" x2="124.8" y2="691.67" stroke="#000" stroke-width="1.8" />
<line x1="928.2" y1="691.67" x2="938.7" y2="691.67" stroke="#000" stroke-width="1.8" />
<text x="107.5" y="1170.83" font-size="30.5" text-anchor="end" fill="#000" font-weight="normal" >−250</text>
<text x="945.8" y="1170.83" font-size="30" text-anchor="start" fill="#000" font-weight="normal" >250</text>
<text x="107.5" y="1092.7" font-size="30.5" text-anchor="end" fill="#000" font-weight="normal" >−200</text>
<text x="945.8" y="1092.7" font-size="30" text-anchor="start" fill="#000" font-weight="normal" >200</text>
<text x="107.5" y="1014.57" font-size="30.5" text-anchor="end" fill="#000" font-weight="normal" >−150</text>
<text x="945.8" y="1014.57" font-size="30" text-anchor="start" fill="#000" font-weight="normal" >150</text>
<text x="107.5" y="936.45" font-size="30.5" text-anchor="end" fill="#000" font-weight="normal" >−100</text>
<text x="945.8" y="936.45" font-size="30" text-anchor="start" fill="#000" font-weight="normal" >100</text>
<text x="107.5" y="858.32" font-size="30.5" text-anchor="end" fill="#000" font-weight="normal" >−50</text>
<text x="945.8" y="858.32" font-size="30" text-anchor="start" fill="#000" font-weight="normal" >50</text>
<text x="107.5" y="780.2" font-size="30.5" text-anchor="end" fill="#000" font-weight="normal" >0</text>
<text x="945.8" y="780.2" font-size="30" text-anchor="start" fill="#000" font-weight="normal" >0</text>
<text x="107.5" y="702.07" font-size="30.5" text-anchor="end" fill="#000" font-weight="normal" >50</text>
<text x="945.8" y="702.07" font-size="30" text-anchor="start" fill="#000" font-weight="normal" >−50</text>
<text x="27" y="912.6" font-size="33.8" text-anchor="middle" fill="#000" font-weight="normal" transform="rotate(-90 27 912.6)" >C_destroy (Gg CO<tspan font-size="22.5" dy="8.8">2</tspan><tspan dy="-8.8">)</tspan></text>
<text x="1030.5" y="910" font-size="32.2" text-anchor="middle" fill="#000" font-weight="normal" transform="rotate(-90 1030.5 910)" >C_restore (Gg CO<tspan font-size="21.5" dy="8.4">2</tspan><tspan dy="-8.4">)</tspan></text>
<text x="130.6" y="708.2" font-size="43" text-anchor="start" fill="#000" font-weight="bold" >(c)</text>
<rect x="136" y="957.7" width="69.6" height="33.8" fill="url(#hat)" stroke="#08e6dc" stroke-width="1.5" />
<line x1="134.7" y1="1029.5" x2="206.7" y2="1029.5" stroke="#f96b08" stroke-width="2.6" />
<line x1="134.7" y1="1084.7" x2="206.7" y2="1084.7" stroke="#0808e6" stroke-width="2.8" />
<text x="215" y="984.8" font-size="31" text-anchor="start" fill="#000" font-weight="normal" >VCSD</text>
<text x="214.5" y="1039.8" font-size="31.4" text-anchor="start" fill="#000" font-weight="normal" >C_destroy</text>
<text x="214.5" y="1095" font-size="31.4" text-anchor="start" fill="#000" font-weight="normal" >C_restore</text>
<text x="136.5" y="1149.3" font-size="29.7" text-anchor="start" fill="#000" font-weight="normal" >Note: '+' represents an increase, '-' represents a decrease</text>
</g>
<g id="pd">
<polyline points="1102.9,1085.3 1153.14,1067.1 1203.38,993.6 1253.62,974.7 1303.86,919.6 1354.1,892.2 1404.34,895.6 1454.58,888.2 1504.82,854.3 1555.06,921.5 1605.3,853.8 1655.54,837.3 1705.78,797.4 1756.02,739.6 1806.26,727.2 1856.5,674.4" fill="none" stroke="#0b0be8" stroke-width="2" stroke-linejoin="round" />
<polyline points="1106.1,1096.24 1112.41,1088.09 1118.72,1080.18 1125.03,1072.49 1131.34,1065.03 1137.65,1057.78 1143.96,1050.75 1150.27,1043.94 1156.58,1037.33 1162.89,1030.93 1169.2,1024.73 1175.51,1018.72 1181.82,1012.9 1188.13,1007.28 1194.44,1001.83 1200.75,996.57 1207.06,991.49 1213.37,986.57 1219.68,981.82 1225.99,977.24 1232.3,972.82 1238.61,968.56 1244.92,964.44 1251.23,960.48 1257.54,956.66 1263.85,952.97 1270.16,949.43 1276.47,946.02 1282.78,942.73 1289.09,939.57 1295.4,936.53 1301.71,933.61 1308.02,930.8 1314.33,928.09 1320.64,925.5 1326.95,923 1333.26,920.59 1339.57,918.28 1345.88,916.06 1352.19,913.93 1358.5,911.87 1364.81,909.89 1371.12,907.98 1377.43,906.14 1383.74,904.36 1390.05,902.65 1396.36,900.99 1402.67,899.38 1408.98,897.82 1415.29,896.31 1421.6,894.84 1427.91,893.4 1434.22,892 1440.53,890.62 1446.84,889.27 1453.15,887.94 1459.46,886.62 1465.77,885.32 1472.08,884.03 1478.39,882.74 1484.71,881.45 1491.02,880.16 1497.33,878.86 1503.64,877.55 1509.95,876.22 1516.26,874.87 1522.57,873.5 1528.88,872.11 1535.19,870.68 1541.5,869.21 1547.81,867.71 1554.12,866.16 1560.43,864.57 1566.74,862.92 1573.05,861.22 1579.36,859.46 1585.67,857.64 1591.98,855.75 1598.29,853.79 1604.6,851.75 1610.91,849.63 1617.22,847.43 1623.53,845.14 1629.84,842.76 1636.15,840.29 1642.46,837.72 1648.77,835.04 1655.08,832.26 1661.39,829.36 1667.7,826.35 1674.01,823.22 1680.32,819.97 1686.63,816.59 1692.94,813.08 1699.25,809.43 1705.56,805.64 1711.87,801.71 1718.18,797.64 1724.49,793.41 1730.8,789.03 1737.11,784.49 1743.42,779.78 1749.73,774.91 1756.04,769.86 1762.35,764.65 1768.66,759.25 1774.97,753.67 1781.28,747.9 1787.59,741.94 1793.9,735.79 1800.21,729.43 1806.52,722.88 1812.83,716.12 1819.14,709.14 1825.45,701.95 1831.76,694.54 1838.07,686.91 1844.38,679.05 1850.69,670.96 1857,662.64" fill="none" stroke="#f40a10" stroke-width="2" stroke-linejoin="round" />
<path d="M1353.5,797 H1658.5 V965 H1353.5" stroke="#0707ff" stroke-width="4.5" fill="none" stroke-dasharray="21.2 20.1" stroke-linejoin="miter"/>
<path d="M1353.5,797 V967.25" stroke="#0707ff" stroke-width="4.5" fill="none" stroke-dasharray="21.2 20.1"/>
<rect x="1351.25" y="794.75" width="4.5" height="4.5" fill="#0707ff" stroke="none" stroke-width="1" />
<line x1="1076.7" y1="659.2" x2="1886.6" y2="659.2" stroke="#000" stroke-width="2.6" />
<line x1="1076.7" y1="1098" x2="1886.6" y2="1098" stroke="#000" stroke-width="3" />
<line x1="1078" y1="659.2" x2="1078" y2="1099.5" stroke="#000" stroke-width="2.6" />
<line x1="1881.4" y1="659.2" x2="1881.4" y2="1099.5" stroke="#000" stroke-width="2.7" />
<line x1="1102.9" y1="1098" x2="1102.9" y2="1102.8" stroke="#000" stroke-width="2.2" />
<line x1="1128.02" y1="1098" x2="1128.02" y2="1100.6" stroke="#000" stroke-width="2.2" />
<line x1="1153.14" y1="1098" x2="1153.14" y2="1102.8" stroke="#000" stroke-width="2.2" />
<line x1="1178.26" y1="1098" x2="1178.26" y2="1100.6" stroke="#000" stroke-width="2.2" />
<line x1="1203.38" y1="1098" x2="1203.38" y2="1102.8" stroke="#000" stroke-width="2.2" />
<line x1="1228.5" y1="1098" x2="1228.5" y2="1100.6" stroke="#000" stroke-width="2.2" />
<line x1="1253.62" y1="1098" x2="1253.62" y2="1102.8" stroke="#000" stroke-width="2.2" />
<line x1="1278.74" y1="1098" x2="1278.74" y2="1100.6" stroke="#000" stroke-width="2.2" />
<line x1="1303.86" y1="1098" x2="1303.86" y2="1102.8" stroke="#000" stroke-width="2.2" />
<line x1="1328.98" y1="1098" x2="1328.98" y2="1100.6" stroke="#000" stroke-width="2.2" />
<line x1="1354.1" y1="1098" x2="1354.1" y2="1102.8" stroke="#000" stroke-width="2.2" />
<line x1="1379.22" y1="1098" x2="1379.22" y2="1100.6" stroke="#000" stroke-width="2.2" />
<line x1="1404.34" y1="1098" x2="1404.34" y2="1102.8" stroke="#000" stroke-width="2.2" />
<line x1="1429.46" y1="1098" x2="1429.46" y2="1100.6" stroke="#000" stroke-width="2.2" />
<line x1="1454.58" y1="1098" x2="1454.58" y2="1102.8" stroke="#000" stroke-width="2.2" />
<line x1="1479.7" y1="1098" x2="1479.7" y2="1100.6" stroke="#000" stroke-width="2.2" />
<line x1="1504.82" y1="1098" x2="1504.82" y2="1102.8" stroke="#000" stroke-width="2.2" />
<line x1="1529.94" y1="1098" x2="1529.94" y2="1100.6" stroke="#000" stroke-width="2.2" />
<line x1="1555.06" y1="1098" x2="1555.06" y2="1102.8" stroke="#000" stroke-width="2.2" />
<line x1="1580.18" y1="1098" x2="1580.18" y2="1100.6" stroke="#000" stroke-width="2.2" />
<line x1="1605.3" y1="1098" x2="1605.3" y2="1102.8" stroke="#000" stroke-width="2.2" />
<line x1="1630.42" y1="1098" x2="1630.42" y2="1100.6" stroke="#000" stroke-width="2.2" />
<line x1="1655.54" y1="1098" x2="1655.54" y2="1102.8" stroke="#000" stroke-width="2.2" />
<line x1="1680.66" y1="1098" x2="1680.66" y2="1100.6" stroke="#000" stroke-width="2.2" />
<line x1="1705.78" y1="1098" x2="1705.78" y2="1102.8" stroke="#000" stroke-width="2.2" />
<line x1="1730.9" y1="1098" x2="1730.9" y2="1100.6" stroke="#000" stroke-width="2.2" />
<line x1="1756.02" y1="1098" x2="1756.02" y2="1102.8" stroke="#000" stroke-width="2.2" />
<line x1="1781.14" y1="1098" x2="1781.14" y2="1100.6" stroke="#000" stroke-width="2.2" />
<line x1="1806.26" y1="1098" x2="1806.26" y2="1102.8" stroke="#000" stroke-width="2.2" />
<line x1="1831.38" y1="1098" x2="1831.38" y2="1100.6" stroke="#000" stroke-width="2.2" />
<line x1="1856.5" y1="1098" x2="1856.5" y2="1102.8" stroke="#000" stroke-width="2.2" />
<line x1="1881.4" y1="1054.12" x2="1884.4" y2="1054.12" stroke="#000" stroke-width="2.2" />
<line x1="1881.4" y1="1010.24" x2="1886.6" y2="1010.24" stroke="#000" stroke-width="2.2" />
<line x1="1881.4" y1="966.36" x2="1884.4" y2="966.36" stroke="#000" stroke-width="2.2" />
<line x1="1881.4" y1="922.48" x2="1886.6" y2="922.48" stroke="#000" stroke-width="2.2" />
<line x1="1881.4" y1="878.6" x2="1884.4" y2="878.6" stroke="#000" stroke-width="2.2" />
<line x1="1881.4" y1="834.72" x2="1886.6" y2="834.72" stroke="#000" stroke-width="2.2" />
<line x1="1881.4" y1="790.84" x2="1884.4" y2="790.84" stroke="#000" stroke-width="2.2" />
<line x1="1881.4" y1="746.96" x2="1886.6" y2="746.96" stroke="#000" stroke-width="2.2" />
<line x1="1881.4" y1="703.08" x2="1884.4" y2="703.08" stroke="#000" stroke-width="2.2" />
<text x="1889.5" y="1108.4" font-size="30.5" text-anchor="start" fill="#000" font-weight="normal" >0</text>
<text x="1889.5" y="1020.64" font-size="30.5" text-anchor="start" fill="#000" font-weight="normal" >−50</text>
<text x="1889.5" y="932.88" font-size="30.5" text-anchor="start" fill="#000" font-weight="normal" >−100</text>
<text x="1889.5" y="845.12" font-size="30.5" text-anchor="start" fill="#000" font-weight="normal" >−150</text>
<text x="1889.5" y="757.36" font-size="30.5" text-anchor="start" fill="#000" font-weight="normal" >−200</text>
<text x="1889.5" y="669.6" font-size="30.5" text-anchor="start" fill="#000" font-weight="normal" >−250</text>
<text x="1098.3" y="1150.6" font-size="28.9" text-anchor="middle" transform="rotate(-45 1098.3 1140.8)">2007</text>
<text x="1148.54" y="1150.6" font-size="28.9" text-anchor="middle" transform="rotate(-45 1148.54 1140.8)">2008</text>
<text x="1198.78" y="1150.6" font-size="28.9" text-anchor="middle" transform="rotate(-45 1198.78 1140.8)">2009</text>
<text x="1249.02" y="1150.6" font-size="28.9" text-anchor="middle" transform="rotate(-45 1249.02 1140.8)">2010</text>
<text x="1299.26" y="1150.6" font-size="28.9" text-anchor="middle" transform="rotate(-45 1299.26 1140.8)">2011</text>
<text x="1349.5" y="1150.6" font-size="28.9" text-anchor="middle" transform="rotate(-45 1349.5 1140.8)">2012</text>
<text x="1399.74" y="1150.6" font-size="28.9" text-anchor="middle" transform="rotate(-45 1399.74 1140.8)">2013</text>
<text x="1449.98" y="1150.6" font-size="28.9" text-anchor="middle" transform="rotate(-45 1449.98 1140.8)">2014</text>
<text x="1500.22" y="1150.6" font-size="28.9" text-anchor="middle" transform="rotate(-45 1500.22 1140.8)">2015</text>
<text x="1550.46" y="1150.6" font-size="28.9" text-anchor="middle" transform="rotate(-45 1550.46 1140.8)">2016</text>
<text x="1600.7" y="1150.6" font-size="28.9" text-anchor="middle" transform="rotate(-45 1600.7 1140.8)">2017</text>
<text x="1650.94" y="1150.6" font-size="28.9" text-anchor="middle" transform="rotate(-45 1650.94 1140.8)">2018</text>
<text x="1701.18" y="1150.6" font-size="28.9" text-anchor="middle" transform="rotate(-45 1701.18 1140.8)">2019</text>
<text x="1751.42" y="1150.6" font-size="28.9" text-anchor="middle" transform="rotate(-45 1751.42 1140.8)">2020</text>
<text x="1801.66" y="1150.6" font-size="28.9" text-anchor="middle" transform="rotate(-45 1801.66 1140.8)">2021</text>
<text x="1851.9" y="1150.6" font-size="28.9" text-anchor="middle" transform="rotate(-45 1851.9 1140.8)">2022</text>
<text x="1993.5" y="878" font-size="34.2" text-anchor="middle" fill="#000" font-weight="normal" transform="rotate(-90 1993.5 878)" >Potential changes in VCS (Gg CO<tspan font-size="23" dy="9">2</tspan><tspan dy="-9">)</tspan></text>
<text x="1093" y="706.5" font-size="42" text-anchor="start" fill="#000" font-weight="bold" >(d)</text>
<line x1="1167.5" y1="694.4" x2="1240" y2="694.4" stroke="#0b0be8" stroke-width="2" />
<line x1="1167.5" y1="733.6" x2="1240" y2="733.6" stroke="#f40a10" stroke-width="2" />
<text x="1247" y="705.5" font-size="31.7" text-anchor="start" fill="#000" font-weight="normal" >Potential changes in VCS</text>
<text x="1247" y="744.5" font-size="31.7" text-anchor="start" fill="#000" font-weight="normal" >"S" - curves</text>
</g>
</svg>
</body></html>
